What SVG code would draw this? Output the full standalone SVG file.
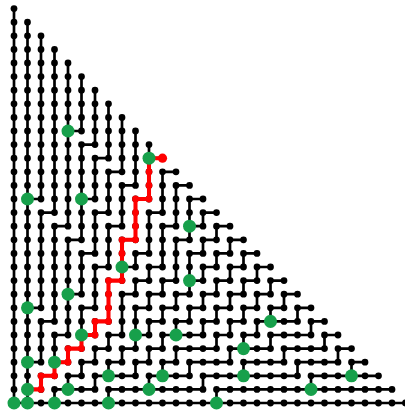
<svg xmlns="http://www.w3.org/2000/svg" width="405" height="411" viewBox="0 0 405 411">
<defs>
<clipPath id="hclip" clipPathUnits="userSpaceOnUse"><polygon transform="matrix(.5 .5 -.5 .5 0 0)" points="-2,-60 -2,0 1,0 1,-1 2,-1 2,0 3,0 3,-3 4,-3 4,2 5,2 5,-3 6,-3 6,0 7,0 7,-7 8,-7 8,6 9,6 9,-5 10,-5 10,0 11,0 11,-9 12,-9 12,4 13,4 13,-9 14,-9 14,-4 15,-4 15,-15 16,-15 16,14 17,14 17,-7 18,-7 18,2 19,2 19,-15 20,-15 20,10 21,10 21,-13 22,-13 22,-4 23,-4 23,-21 24,-21 24,16 25,16 25,-13 26,-13 26,0 27,0 27,-23 28,-23 28,8 31,8 31,-60"/></clipPath>
<clipPath id="vclip" clipPathUnits="userSpaceOnUse"><polygon transform="matrix(.5 .5 -.5 .5 0 0)" points="-2,60 -2,0 1,0 1,-1 2,-1 2,0 3,0 3,-3 4,-3 4,2 5,2 5,-3 6,-3 6,0 7,0 7,-7 8,-7 8,6 9,6 9,-5 10,-5 10,0 11,0 11,-9 12,-9 12,4 13,4 13,-9 14,-9 14,-4 15,-4 15,-15 16,-15 16,14 17,14 17,-7 18,-7 18,2 19,2 19,-15 20,-15 20,10 21,10 21,-13 22,-13 22,-4 23,-4 23,-21 24,-21 24,16 25,16 25,-13 26,-13 26,0 27,0 27,-23 28,-23 28,8 31,8 31,60"/></clipPath>
<path id="rows" d="M0 0H29.01M0 1H28.01M0 2H27.01M0 3H26.01M0 4H25.01M0 5H24.01M0 6H23.01M0 7H22.01M0 8H21.01M0 9H20.01M0 10H19.01M0 11H18.01M0 12H17.01M0 13H16.01M0 14H15.01M0 15H14.01M0 16H13.01M0 17H12.01M0 18H11.01M0 19H10.01M0 20H9.01M0 21H8.01M0 22H7.01M0 23H6.01M0 24H5.01M0 25H4.01M0 26H3.01M0 27H2.01M0 28H1.01"/>
</defs>
<style>
.e{fill:none;stroke:#000;stroke-width:0.2}
.dots{fill:none;stroke:#000;stroke-width:0.5;stroke-linecap:round;stroke-dasharray:0 1}
.g{fill:#17a04b}
.red{fill:none;stroke:#f00;stroke-width:0.3}
.reddots{fill:none;stroke:#f00;stroke-width:0.5;stroke-linecap:round;stroke-dasharray:0 1}
</style>
<rect width="405" height="411" fill="#fff"/>
<g transform="translate(14 403) scale(13.5 -13.6)">
<g id="connectors">
<g clip-path="url(#hclip)"><use href="#rows" class="e"/></g>
<g clip-path="url(#vclip)"><path class="e" d="M0 0V29M1 0V28M2 0V27M3 0V26M4 0V25M5 0V24M6 0V23M7 0V22M8 0V21M9 0V20M10 0V19M11 0V18M12 0V17M13 0V16M14 0V15M15 0V14M16 0V13M17 0V12M18 0V11M19 0V10M20 0V9M21 0V8M22 0V7M23 0V6M24 0V5M25 0V4M26 0V3M27 0V2M28 0V1"/></g>
</g>
<g id="nodes">
<use href="#rows" class="dots"/>
<circle cx="0" cy="29" r="0.25"/>
</g>
<g id="red-path">
<path class="red" d="M11 18H10V15H9V12H8V9H7V6H6V5H5V4H4V3H3V2H2V1H1"/>
<path class="reddots" d="M11 18H10V15H9V12H8V9H7V6H6V5H5V4H4V3H3V2H2V1H1.01"/>
<circle cx="11" cy="18" r="0.34" fill="#f00"/>
</g>
<g id="green-nodes" class="g">
<circle cx="0" cy="0" r="0.48"/><circle cx="1" cy="0" r="0.48"/><circle cx="3" cy="0" r="0.48"/><circle cx="7" cy="0" r="0.48"/><circle cx="15" cy="0" r="0.48"/>
<circle cx="1" cy="1" r="0.48"/><circle cx="4" cy="1" r="0.48"/><circle cx="10" cy="1" r="0.48"/><circle cx="22" cy="1" r="0.48"/>
<circle cx="7" cy="2" r="0.48"/><circle cx="11" cy="2" r="0.48"/><circle cx="17" cy="2" r="0.48"/><circle cx="25" cy="2" r="0.48"/>
<circle cx="1" cy="3" r="0.48"/><circle cx="3" cy="3" r="0.48"/>
<circle cx="17" cy="4" r="0.48"/>
<circle cx="5" cy="5" r="0.48"/><circle cx="9" cy="5" r="0.48"/><circle cx="12" cy="5" r="0.48"/>
<circle cx="19" cy="6" r="0.48"/>
<circle cx="1" cy="7" r="0.48"/>
<circle cx="4" cy="8" r="0.48"/>
<circle cx="13" cy="9" r="0.48"/>
<circle cx="8" cy="10" r="0.48"/>
<circle cx="13" cy="13" r="0.48"/>
<circle cx="1" cy="15" r="0.48"/><circle cx="5" cy="15" r="0.48"/>
<circle cx="10" cy="18" r="0.48"/>
<circle cx="4" cy="20" r="0.48"/>
</g>
</g>
</svg>
